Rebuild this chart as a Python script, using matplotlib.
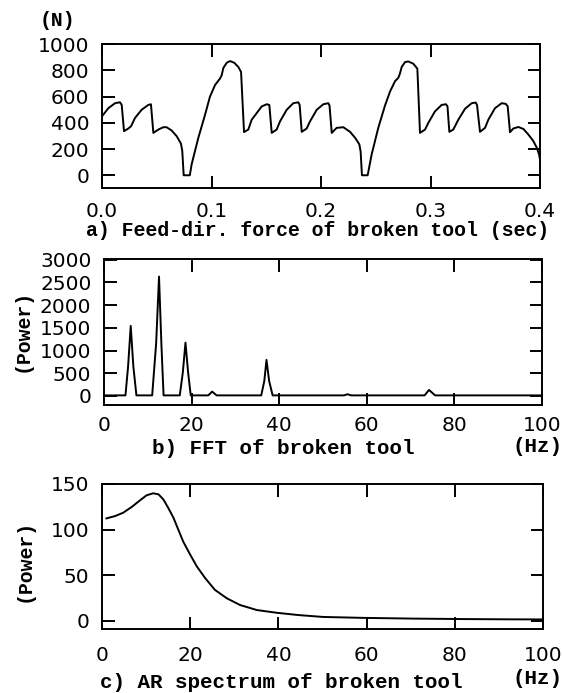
import matplotlib
matplotlib.use('Agg')
import matplotlib.pyplot as plt

# a) feed-direction force of broken tool
t_force = [0.0, 0.0058, 0.0119, 0.0164, 0.018, 0.0201, 0.024, 0.0265, 0.0301, 0.0362,
           0.0423, 0.0447, 0.0469, 0.0514, 0.056, 0.059, 0.0636, 0.0682, 0.0721, 0.0733,
           0.0746, 0.0802, 0.0819, 0.088, 0.0941, 0.0986, 0.1032, 0.1078, 0.1093, 0.1108,
           0.1139, 0.1169, 0.1208, 0.1245, 0.127, 0.1297, 0.1336, 0.1367, 0.1413, 0.1458,
           0.1504, 0.1528, 0.155, 0.1595, 0.1626, 0.1687, 0.1747, 0.1793, 0.1805, 0.1824,
           0.1869, 0.19, 0.1961, 0.2021, 0.2067, 0.2078, 0.2098, 0.2143, 0.2204, 0.2265,
           0.2311, 0.235, 0.2362, 0.2374, 0.2426, 0.2463, 0.2523, 0.2584, 0.263, 0.2676,
           0.2706, 0.2721, 0.2737, 0.2767, 0.2797, 0.2843, 0.288, 0.2904, 0.295, 0.298,
           0.3041, 0.3102, 0.3142, 0.3155, 0.3172, 0.3208, 0.3254, 0.3315, 0.3376, 0.3413,
           0.3425, 0.3452, 0.3498, 0.3528, 0.3589, 0.365, 0.3687, 0.3705, 0.3726, 0.3756,
           0.3802, 0.3848, 0.3893, 0.3939, 0.397, 0.3991, 0.4]
force = [449, 511, 549, 556, 536, 336, 356, 373, 436, 499,
         536, 541, 323, 348, 366, 366, 341, 298, 241, 186,
         0, 0, 85, 286, 461, 599, 687, 737, 762, 817,
         857, 870, 857, 825, 787, 329, 348, 423, 474, 524,
         541, 536, 323, 348, 411, 499, 549, 556, 536, 331,
         356, 411, 499, 541, 549, 530, 323, 361, 366, 331,
         286, 236, 180, 0, 0, 160, 361, 530, 637, 717,
         742, 775, 825, 862, 867, 850, 812, 323, 348, 399,
         487, 536, 541, 525, 331, 348, 423, 506, 549, 554,
         535, 331, 361, 423, 511, 549, 544, 525, 328, 356,
         368, 353, 311, 261, 211, 160, 120]

# b) FFT of broken tool
f_fft = [0, 4.9, 5.5, 6.1, 6.7, 7.4, 11.0, 11.9, 12.56, 13.1, 13.6,
         17.3, 18.0, 18.6, 19.2, 19.8, 23.8, 24.7, 25.7,
         35.9, 36.6, 37.1, 37.7, 38.5, 54.8, 55.6, 56.4, 73.2, 74.2, 75.6, 100]
p_fft = [12, 12, 650, 1542, 650, 12, 12, 1150, 2628, 1150, 12,
         12, 520, 1174, 520, 12, 12, 95, 12,
         12, 330, 793, 330, 12, 12, 37, 12, 12, 132, 12, 12]

# c) AR spectrum of broken tool
f_ar = [1.0, 2.95, 4.8, 6.7, 8.6, 10.1, 11.6, 12.8, 13.9, 15.0, 16.2, 17.3, 18.4,
        20.0, 21.5, 23.4, 25.6, 28.3, 31.3, 35.1, 39.6, 44.5, 50.2, 59.3, 70.6,
        81.9, 92.5, 100]
p_ar = [112.3, 114.8, 118.5, 124.7, 132, 137.6, 139.8, 138.7, 133.2, 124, 113, 100, 87,
        72.5, 59.6, 46.8, 33.9, 24.7, 17.3, 11.8, 8.8, 6.3, 4.2, 3.2, 2.4,
        1.9, 1.6, 1.5]

W, H = 562, 693
cap_font = dict(family='Liberation Mono', fontweight='bold', fontsize=14.3)
tick_font = 14.5
lw = 1.4

plt.rcParams['font.family'] = 'DejaVu Sans'

fig = plt.figure(figsize=(W / 100, H / 100), dpi=100)


def px_axes(left, top, right, bottom):
    return fig.add_axes([left / W, 1 - bottom / H, (right - left) / W, (bottom - top) / H])


def style(ax, xpad=9):
    for s in ax.spines.values():
        s.set_linewidth(lw)
    ax.tick_params(direction='in', length=9, width=lw, top=True, right=True,
                   labelsize=tick_font, pad=9)
    ax.tick_params(axis='x', pad=xpad)


def ftext(x, y, s, size=14.3, **kw):
    fig.text(x / W, 1 - y / H, s, va='center', family='Liberation Mono',
             fontweight='bold', fontsize=size, **kw)


ax1 = px_axes(102, 44, 540, 188)
ax1.plot(t_force, force, color='black', lw=lw)
ax1.set_xlim(0, 0.4)
ax1.set_ylim(-97, 1000)
ax1.set_xticks([0.0, 0.1, 0.2, 0.3, 0.4])
ax1.set_xticklabels(['0.0', '0.1', '0.2', '0.3', '0.4'])
ax1.set_yticks([0, 200, 400, 600, 800, 1000])
style(ax1, xpad=10)

ax2 = px_axes(104, 259, 542, 405)
ax2.plot(f_fft, p_fft, color='black', lw=lw)
ax2.set_xlim(0, 100)
ax2.set_ylim(-200, 3015)
ax2.set_xticks([0, 20, 40, 60, 80, 100])
ax2.set_yticks([0, 500, 1000, 1500, 2000, 2500, 3000])
style(ax2, xpad=8)

ax3 = px_axes(102, 484, 543, 629)
ax3.plot(f_ar, p_ar, color='black', lw=lw)
ax3.set_xlim(0, 100)
ax3.set_ylim(-9, 150)
ax3.set_xticks([0, 20, 40, 60, 80, 100])
ax3.set_yticks([0, 50, 100, 150])
style(ax3, xpad=12)

ftext(40, 20, '(N)')
ftext(86, 231, 'a) Feed-dir. force of broken tool (sec)')
ftext(152, 448, 'b) FFT of broken tool', size=15)
ftext(512, 446, '(Hz)', size=15)
ftext(100, 682, 'c) AR spectrum of broken tool', size=15)
ftext(512, 679, '(Hz)', size=15)
fig.text(22 / W, 1 - 330 / H, '(Power)', rotation=90, ha='center', va='center', **cap_font)
fig.text(24 / W, 1 - 560 / H, '(Power)', rotation=90, ha='center', va='center', **cap_font)

fig.savefig('out.png', dpi=100)
